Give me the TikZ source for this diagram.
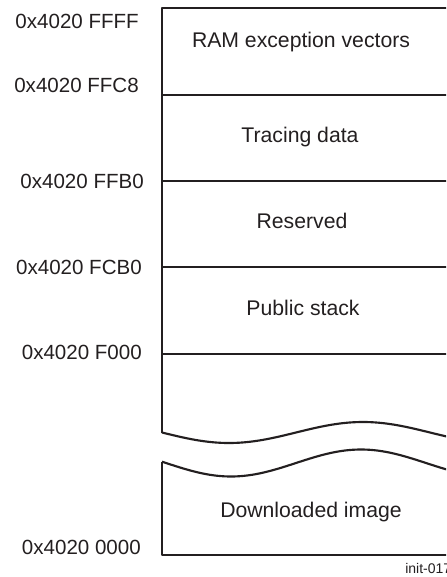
\documentclass[tikz,border=0pt]{standalone}
\usepackage{fontspec}
\setmainfont{Liberation Sans}
\definecolor{ink}{HTML}{231F20}
\begin{document}
\begin{tikzpicture}[x=0.75pt,y=-0.75pt,
  wall/.style={line width=1.6pt,line join=round,draw=ink},
  addr/.style={anchor=east,inner sep=0pt,text=ink,font=\fontsize{15.4}{17}\selectfont},
  region/.style={anchor=base,inner sep=0pt,text=ink,font=\fontsize{15.9}{18}\selectfont},
  tag/.style={anchor=base west,inner sep=0pt,text=ink,font=\fontsize{10.5}{12}\selectfont}]
\useasboundingbox (0,0) rectangle (446,577);
\clip (0,0) rectangle (446,577);
% outline
\coordinate (tl) at (162,8);
\coordinate (tr) at (452,8);
\coordinate (wl1) at (162,433);
\coordinate (wl2) at (162,462);
\coordinate (bl) at (162,555);
\coordinate (br) at (452,555);
\draw[wall] (tr) -- (tl) -- (wl1);
\draw[wall] plot[domain=162:452,samples=80,smooth] (\x,{432.5+10.5*sin(((\x-162)/134)*180)});
\draw[wall] plot[domain=162:452,samples=80,smooth] (\x,{463+13.5*sin(((\x-166)/130)*180)});
\draw[wall] (wl2) -- (bl) -- (br);
% dividers
\foreach \n/\y in {d1/95,d2/181,d3/267,d4/354}{
  \coordinate (\n l) at (162,\y);
  \coordinate (\n r) at (452,\y);
  \draw[wall] (\n l) -- (\n r);
}
% address labels
\node[addr] (a1) at (139,21.5) {0x4020 FFFF};
\node[addr] (a2) at (139,85) {0x4020 FFC8};
\node[addr] (a3) at (144,181.5) {0x4020 FFB0};
\node[addr] (a4) at (142,267) {0x4020 FCB0};
\node[addr] (a5) at (142,352) {0x4020 F000};
\node[addr] (a6) at (141,547) {0x4020 0000};
% region labels
\node[region] (r1) at (301,47.5) {RAM exception vectors};
\node[region] (r2) at (300,143) {Tracing data};
\node[region] (r3) at (302,228) {Reserved};
\node[region] (r4) at (303,315) {Public stack};
\node[region] (r5) at (311,517) {Downloaded image};
\node[tag] (t) at (405,573) {init-017};
\end{tikzpicture}
\end{document}
